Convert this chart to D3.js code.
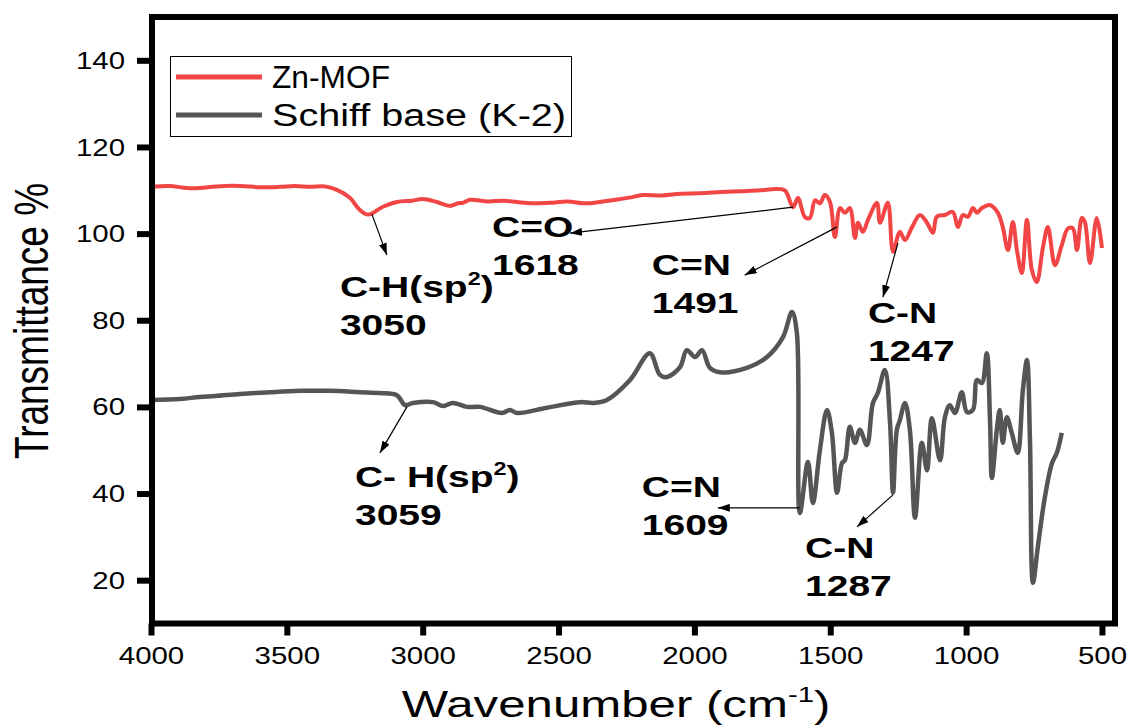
<!DOCTYPE html>
<html>
<head>
<meta charset="utf-8">
<script src="https://cdn.jsdelivr.net/npm/d3@7"></script>
<style>
  body { margin: 0; background: #fff; }
  text { font-family: "Liberation Sans", Arial, sans-serif; }
</style>
</head>
<body>
<div id="chart"></div>
<script>
// wavenumber (cm-1) and transmittance (%)
const znWave = [4000, 3930, 3880, 3820, 3760, 3672, 3600, 3525, 3470, 3415, 3360, 3316, 3268, 3232, 3201, 3146, 3095, 3040, 2999, 2948, 2900, 2870, 2852, 2826, 2760, 2700, 2653, 2600, 2532, 2470, 2400, 2348, 2290, 2240, 2189, 2120, 2050, 1980, 1900, 1830, 1759, 1700, 1667, 1637, 1619, 1593, 1575, 1556, 1538, 1520, 1501, 1483, 1464, 1446, 1428, 1409, 1398, 1380, 1361, 1328, 1317, 1288, 1269, 1244, 1225, 1199, 1170, 1144, 1122, 1108, 1078, 1049, 1030, 1012, 993, 975, 960, 942, 912, 883, 865, 846, 828, 813, 795, 776, 758, 740, 717, 699, 673, 648, 625, 607, 592, 574, 563, 544, 519, 500];
const znT = [110.8, 111.0, 110.6, 110.5, 110.9, 111.0, 110.7, 110.8, 111.0, 110.8, 110.9, 110.1, 108.3, 105.5, 104.4, 106.2, 107.3, 107.6, 108.0, 107.3, 106.4, 107.0, 107.1, 107.8, 107.4, 107.6, 107.3, 107.0, 107.1, 107.4, 107.0, 107.3, 107.8, 108.3, 108.9, 108.8, 109.2, 109.3, 109.6, 109.8, 110.0, 110.3, 110.0, 106.1, 108.2, 103.8, 103.6, 107.7, 107.0, 108.9, 107.3, 99.2, 105.9, 104.8, 105.9, 99.0, 102.5, 100.4, 103.2, 107.1, 102.5, 107.1, 95.8, 100.4, 98.5, 101.5, 104.3, 102.5, 100.2, 103.9, 104.3, 105.0, 101.5, 104.3, 103.9, 105.9, 104.8, 105.9, 106.6, 104.8, 101.5, 96.2, 102.7, 96.2, 90.9, 103.2, 91.6, 88.8, 96.9, 101.5, 92.7, 97.3, 101.2, 101.2, 96.2, 103.6, 102.7, 93.2, 103.6, 96.7];

const skWave = [4000, 3893, 3820, 3764, 3672, 3562, 3452, 3341, 3231, 3157, 3095, 3065, 3036, 2962, 2925, 2889, 2837, 2789, 2708, 2679, 2653, 2543, 2421, 2373, 2322, 2237, 2164, 2127, 2101, 2053, 2028, 1998, 1972, 1943, 1906, 1807, 1733, 1674, 1641, 1623, 1612, 1582, 1564, 1538, 1512, 1494, 1475, 1457, 1446, 1428, 1409, 1391, 1365, 1343, 1325, 1299, 1280, 1269, 1255, 1244, 1225, 1207, 1188, 1163, 1144, 1126, 1096, 1078, 1060, 1041, 1016, 997, 975, 960, 942, 924, 912, 905, 887, 876, 865, 850, 832, 810, 791, 776, 765, 754, 736, 710, 684, 666, 648];
const skT = [61.6, 61.8, 62.3, 62.5, 63.0, 63.4, 63.7, 63.7, 63.4, 63.2, 62.7, 60.4, 60.9, 61.1, 60.2, 60.9, 60.0, 60.0, 58.6, 59.3, 58.6, 59.8, 61.1, 60.9, 61.6, 66.2, 72.4, 67.4, 66.9, 69.2, 73.1, 71.5, 73.1, 69.0, 68.0, 69.0, 71.5, 76.1, 81.9, 77.1, 35.5, 47.3, 37.8, 50.1, 59.3, 54.0, 40.2, 47.0, 47.7, 55.4, 51.7, 54.7, 51.2, 60.9, 63.2, 68.5, 56.3, 40.2, 54.7, 56.9, 60.9, 54.7, 34.4, 51.7, 45.4, 57.4, 47.7, 57.6, 60.4, 58.6, 63.4, 58.8, 59.3, 66.2, 65.5, 72.4, 56.9, 43.6, 54.7, 59.3, 51.7, 57.6, 54.0, 49.4, 63.9, 70.8, 52.4, 19.4, 27.7, 39.2, 47.0, 49.4, 54.0];

const seriesNames = ["Zn-MOF", "Schiff base (K-2)"];
const xTicks = [4000, 3500, 3000, 2500, 2000, 1500, 1000, 500];
const yTicks = [20, 40, 60, 80, 100, 120, 140];

// peak annotations: [line1, line2], wavenumber, transmittance
const peakText = [["C-H(sp", "3050"], ["C=O", "1618"], ["C=N", "1491"], ["C-N", "1247"], ["C- H(sp", "3059"], ["C=N", "1609"], ["C-N", "1287"]];
const peakWave = [3187, 1637, 1476, 1251, 3058, 1612, 1269];
const peakT = [104.5, 106.1, 101.5, 97.8, 60.0, 36.7, 39.7];

// layout offsets in px from the peak: arrow tip and label
const tipOff = [[15, 41], [-223, 26], [-92, 48], [-15, 54], [-27, 46], [-82, 0], [-36, 32]];
const labOff = [[-32, 83], [-301, 30], [-185, 48], [-30, 80], [-52, 80], [-158, -11], [-88, 63]];

const W = 1130, H = 726;
const SX = 1.28; // the original is stretched sideways

const svg = d3.select("#chart").append("svg")
  .attr("width", W).attr("height", H);

const x = d3.scaleLinear().domain([4000, 452]).range([151, 1115]);
const y = d3.scaleLinear().domain([10, 150]).range([623.5, 17]);

svg.append("defs").append("marker")
  .attr("id", "arr")
  .attr("viewBox", "0 0 12 8")
  .attr("refX", 12).attr("refY", 4)
  .attr("markerWidth", 12).attr("markerHeight", 8)
  .attr("markerUnits", "userSpaceOnUse")
  .attr("orient", "auto")
  .append("path").attr("d", "M0,0L12,4L0,8Z").attr("fill", "#000");

const line = d3.line()
  .x(d => x(d[0])).y(d => y(d[1]))
  .curve(d3.curveCatmullRom.alpha(0.5));

svg.append("path")
  .datum(skWave.map((w, i) => [w, skT[i]]))
  .attr("d", line).attr("fill", "none")
  .attr("stroke", "#555").attr("stroke-width", 4.5)
  .attr("stroke-linejoin", "round");

svg.append("path")
  .datum(znWave.map((w, i) => [w, znT[i]]))
  .attr("d", line).attr("fill", "none")
  .attr("stroke", "#f24545").attr("stroke-width", 4)
  .attr("stroke-linejoin", "round");

// axes
const gx = svg.append("g").attr("transform", "translate(0,623.5)")
  .call(d3.axisBottom(x).tickValues(xTicks).tickSize(12).tickSizeOuter(0).tickFormat(d3.format("d")));
const gy = svg.append("g").attr("transform", "translate(152,0)")
  .call(d3.axisLeft(y).tickValues(yTicks).tickSize(15).tickSizeOuter(0));

[gx, gy].forEach(g => {
  g.select(".domain").remove();
  g.selectAll(".tick line").attr("stroke", "#000").attr("stroke-width", 6);
  g.selectAll(".tick text").attr("font-size", 23).attr("fill", "#000")
    .attr("font-family", "'Liberation Sans', Arial, sans-serif");
});
gx.selectAll(".tick text").attr("y", 0).attr("dy", 0)
  .attr("transform", `translate(0,40) scale(${SX},1)`);
gy.selectAll(".tick text").attr("x", 0).attr("dy", "0.35em")
  .attr("transform", `translate(-27,0) scale(${SX},1)`);

svg.append("rect")
  .attr("x", x(4000) + 1).attr("y", y(150))
  .attr("width", x(452) - x(4000) - 1).attr("height", y(10) - y(150))
  .attr("fill", "none").attr("stroke", "#000").attr("stroke-width", 6);

// axis titles
svg.append("text")
  .attr("transform", `translate(48,321) rotate(-90) scale(1,${SX})`)
  .attr("text-anchor", "middle").attr("font-size", 37)
  .text("Transmittance %");

const xt = svg.append("text")
  .attr("transform", `translate(616,717) scale(1.33,1)`)
  .attr("text-anchor", "middle").attr("font-size", 37);
xt.append("tspan").text("Wavenumber (cm");
xt.append("tspan").attr("font-size", 22).attr("dy", -15).text("-1");
xt.append("tspan").attr("dy", 15).text(")");

// legend
const leg = svg.append("g");
leg.append("rect").attr("x", 170.5).attr("y", 56.5).attr("width", 401).attr("height", 80)
  .attr("fill", "#fff").attr("stroke", "#000").attr("stroke-width", 1);
const legColors = ["#f24545", "#555"];
const legWidth = [118, 294];
seriesNames.forEach((s, i) => {
  const ly = 77 + i * 38;
  leg.append("line").attr("x1", 176).attr("x2", 262).attr("y1", ly).attr("y2", ly)
    .attr("stroke", legColors[i]).attr("stroke-width", 5);
  leg.append("text").attr("x", 272).attr("y", ly + 11)
    .attr("font-size", 31)
    .attr("textLength", legWidth[i]).attr("lengthAdjust", "spacingAndGlyphs")
    .text(s);
});

// annotations
peakText.forEach((t, i) => {
  const px = x(peakWave[i]), py = y(peakT[i]);
  svg.append("line")
    .attr("x1", px).attr("y1", py)
    .attr("x2", px + tipOff[i][0]).attr("y2", py + tipOff[i][1])
    .attr("stroke", "#000").attr("stroke-width", 1.2)
    .attr("marker-end", "url(#arr)");
  const lx = px + labOff[i][0], ly = py + labOff[i][1];
  const t1 = svg.append("text")
    .attr("transform", `translate(${lx},${ly}) scale(1.3,1)`)
    .attr("font-size", 30).attr("font-weight", "bold");
  t1.append("tspan").text(t[0]);
  if (t[0].endsWith("(sp")) {
    t1.append("tspan").attr("font-size", 18).attr("dy", -12).text("2");
    t1.append("tspan").attr("dy", 12).text(")");
  }
  svg.append("text")
    .attr("transform", `translate(${lx},${ly + 38}) scale(1.3,1)`)
    .attr("font-size", 30).attr("font-weight", "bold")
    .text(t[1]);
});
</script>
</body>
</html>
